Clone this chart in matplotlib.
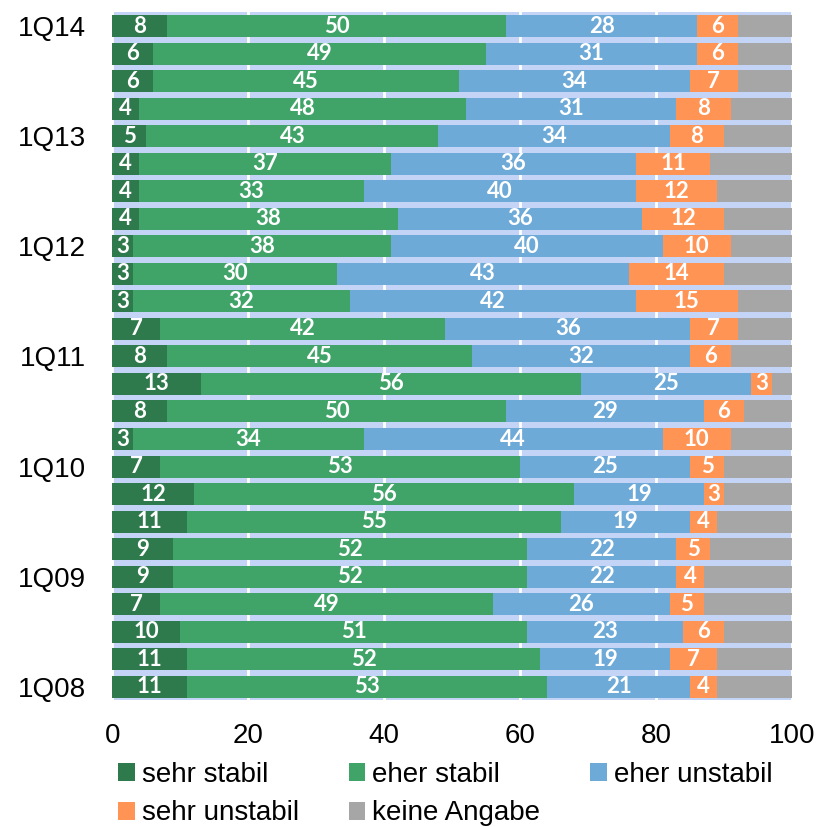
import numpy as np
import matplotlib.pyplot as plt

# quarters, bottom to top
quarters = ["1Q08", "2Q08", "3Q08", "4Q08", "1Q09", "2Q09", "3Q09", "4Q09",
            "1Q10", "2Q10", "3Q10", "4Q10", "1Q11", "2Q11", "3Q11", "4Q11",
            "1Q12", "2Q12", "3Q12", "4Q12", "1Q13", "2Q13", "3Q13", "4Q13", "1Q14"]

sehr_stabil = [11, 11, 10, 7, 9, 9, 11, 12, 7, 3, 8, 13, 8, 7, 3, 3, 3, 4, 4, 4, 5, 4, 6, 6, 8]
eher_stabil = [53, 52, 51, 49, 52, 52, 55, 56, 53, 34, 50, 56, 45, 42, 32, 30, 38, 38, 33, 37, 43, 48, 45, 49, 50]
eher_unstabil = [21, 19, 23, 26, 22, 22, 19, 19, 25, 44, 29, 25, 32, 36, 42, 43, 40, 36, 40, 36, 34, 31, 34, 31, 28]
sehr_unstabil = [4, 7, 6, 5, 4, 5, 4, 3, 5, 10, 6, 3, 6, 7, 15, 14, 10, 12, 12, 11, 8, 8, 7, 6, 6]
keine_angabe = [100 - a - b - c - d for a, b, c, d in
                zip(sehr_stabil, eher_stabil, eher_unstabil, sehr_unstabil)]

series = [("sehr stabil", sehr_stabil, "#2e7a4c", True),
          ("eher stabil", eher_stabil, "#40a468", True),
          ("eher unstabil", eher_unstabil, "#6eaad8", True),
          ("sehr unstabil", sehr_unstabil, "#ff9455", True),
          ("keine Angabe", keine_angabe, "#a6a6a6", False)]

fig = plt.figure(figsize=(8.19, 8.27), dpi=100)
ax = fig.add_axes([0.137, 0.153, 0.830, 0.832])
ax.set_facecolor("#c4d4f6")

y = np.arange(len(quarters))
left = np.zeros(len(quarters))
handles = []
for name, vals, color, show in series:
    vals = np.array(vals, dtype=float)
    bars = ax.barh(y, vals, left=left, height=0.8, color=color, label=name, zorder=2)
    handles.append(bars)
    if show:
        ax.bar_label(bars, labels=[str(int(v)) for v in vals], label_type="center",
                     color="white", fontsize=16, fontweight="bold", family="Lato")
    left += vals

ax.set_xlim(0, 100)
ax.set_ylim(-0.5, len(quarters) - 0.5)
ax.set_xticks([0, 20, 40, 60, 80, 100])
ax.set_yticks(y[::4])
ax.set_yticklabels(quarters[::4])
ax.tick_params(length=0, labelsize=20)
ax.tick_params(axis="y", pad=19)
ax.tick_params(axis="x", pad=16)
for lab in ax.get_xticklabels() + ax.get_yticklabels():
    lab.set_family("Liberation Sans")
ax.grid(axis="x", color="white", linewidth=2, zorder=1)
ax.set_axisbelow(True)
for s in ax.spines.values():
    s.set_visible(False)

# legend filled row by row: 3 columns, column-major order of handles
order = [0, 3, 1, 4, 2]
fig.legend([handles[i] for i in order], [series[i][0] for i in order],
           loc="upper left", bbox_to_anchor=(118 / 819, 1 - 762 / 827), ncol=3,
           frameon=False, borderpad=0, borderaxespad=0,
           handlelength=0.6, handleheight=0.6, handletextpad=0.25,
           columnspacing=1.8, labelspacing=0.45,
           prop={"family": "Liberation Sans", "size": 20})

plt.savefig("out.png", dpi=100)
